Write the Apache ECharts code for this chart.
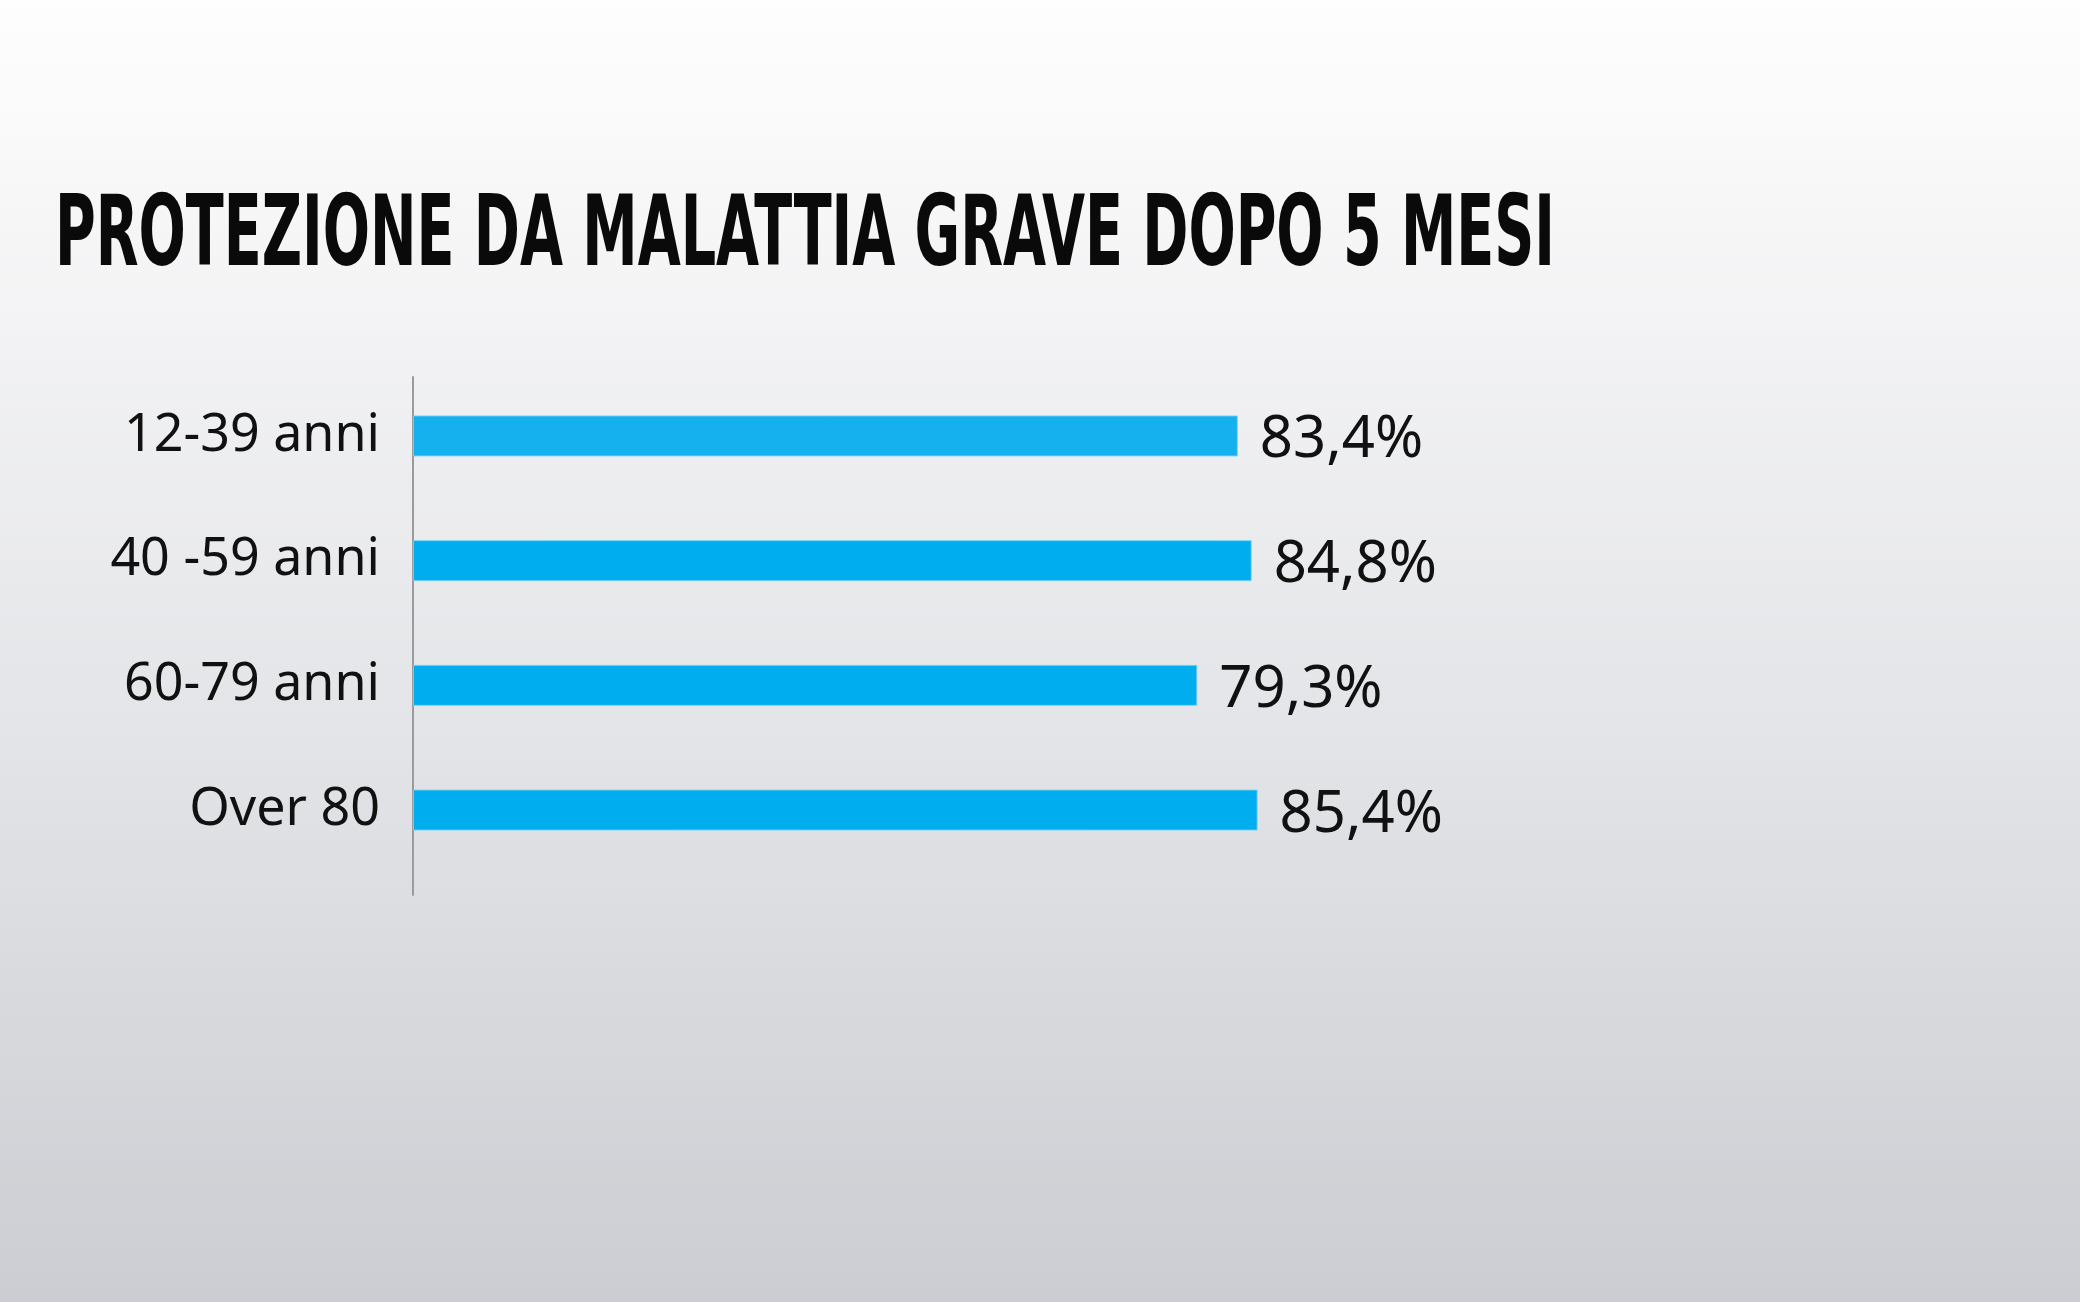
<!DOCTYPE html>
<html>
<head>
<meta charset="utf-8">
<script src="https://cdn.jsdelivr.net/npm/echarts@6/dist/echarts.min.js"></script>
<style>
html,body{margin:0;padding:0;width:2080px;height:1302px;overflow:hidden;}
#c{width:2080px;height:1302px;}
</style>
</head>
<body>
<div id="c"></div>
<script>
const titleText = 'PROTEZIONE DA MALATTIA GRAVE DOPO 5 MESI';
const categories = ['12-39 anni', '40 -59 anni', '60-79 anni', 'Over 80'];
const values = [83.4, 84.8, 79.3, 85.4];
const valueLabels = ['83,4%', '84,8%', '79,3%', '85,4%'];
const barColors = ['#14b1ee', '#00adee', '#00adee', '#00adee'];

const titleFont = 'bold 100px "Liberation Sans Narrow", "DejaVu Sans Condensed", Roboto, sans-serif';
const cv = document.createElement('canvas').getContext('2d');
cv.font = titleFont;
cv.textBaseline = 'middle';
const m = cv.measureText(titleText);
const targetW = 1500, capTop = 192, capBot = 266;
const sx = targetW / m.width;
const sy = (capBot - capTop) / (m.actualBoundingBoxAscent + m.actualBoundingBoxDescent);
const ty = capTop + m.actualBoundingBoxAscent * sy;

const chart = echarts.init(document.getElementById('c'), null, {renderer: 'canvas'});
chart.setOption({
  animation: false,
  backgroundColor: {
    type: 'linear', x: 0, y: 0, x2: 0, y2: 1,
    colorStops: [
      {offset: 0, color: '#fefefe'},
      {offset: 0.15, color: '#f7f7f8'},
      {offset: 0.55, color: '#e4e5e8'},
      {offset: 1, color: '#cccdd2'}
    ]
  },
  graphic: [{
    type: 'text', x: 55, y: ty, scaleX: sx, scaleY: sy,
    style: {
      text: titleText, x: 0, y: 0,
      font: titleFont, fill: '#0a0a0a',
      textAlign: 'left', textVerticalAlign: 'middle', verticalAlign: 'middle'
    }
  }],
  grid: [
    {left: 413, top: 373.6, height: 498.8, width: 989, containLabel: false},
    {left: 413, top: 377, height: 518, width: 989, containLabel: false}
  ],
  xAxis: [
    {gridIndex: 0, type: 'value', min: 0, max: 100, show: false},
    {gridIndex: 1, type: 'value', min: 0, max: 100, show: false}
  ],
  yAxis: [
    {
      gridIndex: 0, type: 'category', data: categories, inverse: true,
      axisLine: {show: false}, axisTick: {show: false}, splitLine: {show: false},
      axisLabel: {
        margin: 33, fontSize: 52, color: '#111111',
        fontFamily: '"Noto Sans", sans-serif', fontWeight: 400,
        verticalAlign: 'middle', padding: [0, 0, 10, 0]
      }
    },
    {
      gridIndex: 1, type: 'value', min: 0, max: 1,
      axisLine: {show: true, onZero: false, lineStyle: {color: '#9b9b9b', width: 2}},
      axisTick: {show: false}, axisLabel: {show: false}, splitLine: {show: false}
    }
  ],
  series: [{
    type: 'bar', xAxisIndex: 0, yAxisIndex: 0,
    barWidth: 41,
    data: values.map((v, i) => ({value: v, itemStyle: {color: barColors[i]}})),
    itemStyle: {borderColor: 'rgba(120,210,245,0.9)', borderWidth: 1},
    label: {
      show: true, position: 'right', distance: 22,
      formatter: p => valueLabels[p.dataIndex],
      fontSize: 58, color: '#111111',
      fontFamily: '"Noto Sans", sans-serif', fontWeight: 400,
      offset: [0, 5]
    }
  }]
});
</script>
</body>
</html>
